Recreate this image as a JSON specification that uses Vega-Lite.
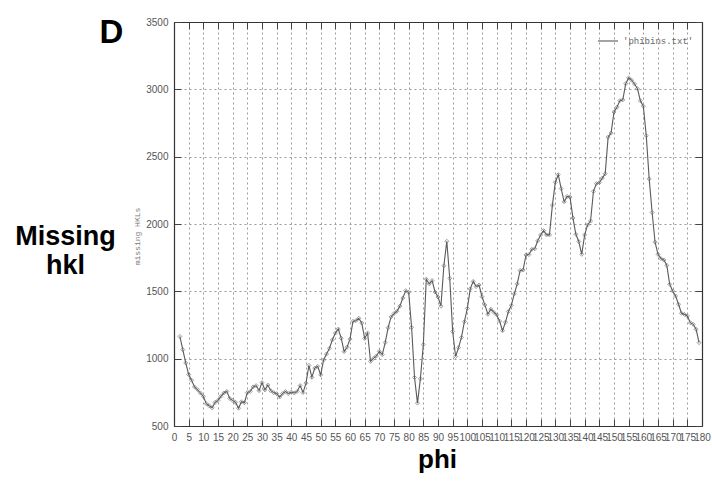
{
  "$schema": "https://vega.github.io/schema/vega-lite/v6.json",
  "autosize": {"type": "none"},
  "padding": {"left": 174, "top": 22, "right": 10, "bottom": 55},
  "width": 528,
  "height": 404,
  "background": "white",
  "config": {"view": {"stroke": null}},
  "data": {"values": [
    {"phi":2,"hkl":1165},{"phi":3,"hkl":1067},{"phi":4,"hkl":968},{"phi":5,"hkl":882},{"phi":6,"hkl":840},{"phi":7,"hkl":790},{"phi":8,"hkl":770},{"phi":9,"hkl":745},{"phi":10,"hkl":720},
    {"phi":11,"hkl":666},{"phi":12,"hkl":650},{"phi":13,"hkl":635},{"phi":14,"hkl":675},{"phi":15,"hkl":690},{"phi":16,"hkl":720},{"phi":17,"hkl":745},{"phi":18,"hkl":757},{"phi":19,"hkl":705},{"phi":20,"hkl":690},
    {"phi":21,"hkl":675},{"phi":22,"hkl":632},{"phi":23,"hkl":680},{"phi":24,"hkl":673},{"phi":25,"hkl":748},{"phi":26,"hkl":757},{"phi":27,"hkl":790},{"phi":28,"hkl":800},{"phi":29,"hkl":762},{"phi":30,"hkl":822},
    {"phi":31,"hkl":768},{"phi":32,"hkl":804},{"phi":33,"hkl":762},{"phi":34,"hkl":748},{"phi":35,"hkl":740},{"phi":36,"hkl":715},{"phi":37,"hkl":740},{"phi":38,"hkl":757},{"phi":39,"hkl":740},{"phi":40,"hkl":752},
    {"phi":41,"hkl":745},{"phi":42,"hkl":757},{"phi":43,"hkl":800},{"phi":44,"hkl":748},{"phi":45,"hkl":818},{"phi":46,"hkl":950},{"phi":47,"hkl":862},{"phi":48,"hkl":930},{"phi":49,"hkl":943},{"phi":50,"hkl":880},
    {"phi":51,"hkl":990},{"phi":52,"hkl":1035},{"phi":53,"hkl":1077},{"phi":54,"hkl":1140},{"phi":55,"hkl":1190},{"phi":56,"hkl":1220},{"phi":57,"hkl":1152},{"phi":58,"hkl":1052},{"phi":59,"hkl":1085},{"phi":60,"hkl":1145},
    {"phi":61,"hkl":1277},{"phi":62,"hkl":1282},{"phi":63,"hkl":1300},{"phi":64,"hkl":1265},{"phi":65,"hkl":1150},{"phi":66,"hkl":1190},{"phi":67,"hkl":980},{"phi":68,"hkl":1002},{"phi":69,"hkl":1020},{"phi":70,"hkl":1055},
    {"phi":71,"hkl":1030},{"phi":72,"hkl":1120},{"phi":73,"hkl":1230},{"phi":74,"hkl":1310},{"phi":75,"hkl":1335},{"phi":76,"hkl":1352},{"phi":77,"hkl":1390},{"phi":78,"hkl":1450},{"phi":79,"hkl":1505},{"phi":80,"hkl":1493},
    {"phi":81,"hkl":1233},{"phi":82,"hkl":860},{"phi":83,"hkl":670},{"phi":84,"hkl":850},{"phi":85,"hkl":1105},{"phi":86,"hkl":1590},{"phi":87,"hkl":1556},{"phi":88,"hkl":1580},{"phi":89,"hkl":1495},{"phi":90,"hkl":1458},
    {"phi":91,"hkl":1390},{"phi":92,"hkl":1690},{"phi":93,"hkl":1872},{"phi":94,"hkl":1597},{"phi":95,"hkl":1202},{"phi":96,"hkl":1016},{"phi":97,"hkl":1082},{"phi":98,"hkl":1158},{"phi":99,"hkl":1275},{"phi":100,"hkl":1373},
    {"phi":101,"hkl":1518},{"phi":102,"hkl":1574},{"phi":103,"hkl":1535},{"phi":104,"hkl":1547},{"phi":105,"hkl":1460},{"phi":106,"hkl":1398},{"phi":107,"hkl":1330},{"phi":108,"hkl":1368},{"phi":109,"hkl":1345},{"phi":110,"hkl":1325},
    {"phi":111,"hkl":1279},{"phi":112,"hkl":1208},{"phi":113,"hkl":1271},{"phi":114,"hkl":1350},{"phi":115,"hkl":1396},{"phi":116,"hkl":1481},{"phi":117,"hkl":1555},{"phi":118,"hkl":1655},{"phi":119,"hkl":1658},{"phi":120,"hkl":1770},
    {"phi":121,"hkl":1773},{"phi":122,"hkl":1812},{"phi":123,"hkl":1816},{"phi":124,"hkl":1875},{"phi":125,"hkl":1919},{"phi":126,"hkl":1951},{"phi":127,"hkl":1919},{"phi":128,"hkl":1919},{"phi":129,"hkl":2140},{"phi":130,"hkl":2310},
    {"phi":131,"hkl":2366},{"phi":132,"hkl":2263},{"phi":133,"hkl":2165},{"phi":134,"hkl":2205},{"phi":135,"hkl":2200},{"phi":136,"hkl":2045},{"phi":137,"hkl":1924},{"phi":138,"hkl":1870},{"phi":139,"hkl":1775},{"phi":140,"hkl":1919},
    {"phi":141,"hkl":1993},{"phi":142,"hkl":2022},{"phi":143,"hkl":2243},{"phi":144,"hkl":2300},{"phi":145,"hkl":2307},{"phi":146,"hkl":2341},{"phi":147,"hkl":2373},{"phi":148,"hkl":2645},{"phi":149,"hkl":2675},{"phi":150,"hkl":2832},
    {"phi":151,"hkl":2867},{"phi":152,"hkl":2916},{"phi":153,"hkl":2922},{"phi":154,"hkl":3042},{"phi":155,"hkl":3085},{"phi":156,"hkl":3068},{"phi":157,"hkl":3040},{"phi":158,"hkl":3005},{"phi":159,"hkl":2915},{"phi":160,"hkl":2875},
    {"phi":161,"hkl":2655},{"phi":162,"hkl":2335},{"phi":163,"hkl":2085},{"phi":164,"hkl":1865},{"phi":165,"hkl":1775},{"phi":166,"hkl":1743},{"phi":167,"hkl":1733},{"phi":168,"hkl":1693},{"phi":169,"hkl":1552},{"phi":170,"hkl":1503},
    {"phi":171,"hkl":1465},{"phi":172,"hkl":1404},{"phi":173,"hkl":1337},{"phi":174,"hkl":1329},{"phi":175,"hkl":1317},{"phi":176,"hkl":1267},{"phi":177,"hkl":1255},{"phi":178,"hkl":1218},{"phi":179,"hkl":1119}
  ]},
  "resolve": {"axis": {"x": "independent", "y": "independent"}},
  "layer": [
    {
      "mark": {"type": "line", "strokeWidth": 1.1},
      "encoding": {
        "x": {"field": "phi", "type": "quantitative",
          "scale": {"domain": [0, 180], "nice": false, "zero": false},
          "axis": {"orient": "bottom", "values": [0,5,10,15,20,25,30,35,40,45,50,55,60,65,70,75,80,85,90,95,100,105,110,115,120,125,130,135,140,145,150,155,160,165,170,175,180],
            "format": "d",
            "grid": true, "gridDash": [2, 3], "gridColor": "#9a9a9a", "gridWidth": 1,
            "domainColor": "#333", "domainWidth": 1.2,
            "tickSize": -7, "tickColor": "#444", "tickWidth": 1,
            "labelFont": "Liberation Sans", "labelFontSize": 10, "labelColor": "#555", "labelPadding": 13,
            "labelOverlap": false, "labelBound": false, "labelFlush": false,
            "title": "phi", "titleFont": "Liberation Sans", "titleFontSize": 26, "titleFontWeight": "bold", "titleColor": "#000",
            "titleX": 263, "titleY": 41, "titleAlign": "center", "titleBaseline": "alphabetic", "titleAngle": 0}},
        "y": {"field": "hkl", "type": "quantitative",
          "scale": {"domain": [500, 3500], "nice": false, "zero": false},
          "axis": {"orient": "left", "values": [500,1000,1500,2000,2500,3000,3500],
            "format": "d",
            "grid": true, "gridDash": [2, 3], "gridColor": "#9a9a9a", "gridWidth": 1,
            "domainColor": "#333", "domainWidth": 1.2,
            "tickSize": -7, "tickColor": "#444", "tickWidth": 1,
            "labelFont": "Liberation Sans", "labelFontSize": 10, "labelColor": "#555", "labelPadding": 13,
            "title": "missing HKLs", "titleFont": "Liberation Mono", "titleFontSize": 8, "titleFontWeight": "normal", "titleColor": "#777",
            "titleX": -37, "titleY": 214, "titleAngle": -90, "titleAlign": "center", "titleBaseline": "middle"}},
        "color": {"datum": "'phibins.txt'", "type": "nominal",
          "scale": {"range": ["#5a5a5a"]},
          "legend": {"title": null, "orient": "top-right", "offset": 8, "symbolType": "stroke", "symbolSize": 400, "symbolStrokeWidth": 1.1,
            "labelFont": "Liberation Mono", "labelFontSize": 9, "labelColor": "#666", "padding": 0}}
      }
    },
    {
      "mark": {"type": "point", "shape": "diamond", "filled": false, "size": 16, "stroke": "#666", "strokeWidth": 0.9},
      "encoding": {
        "x": {"field": "phi", "type": "quantitative",
          "axis": {"orient": "top", "values": [0,5,10,15,20,25,30,35,40,45,50,55,60,65,70,75,80,85,90,95,100,105,110,115,120,125,130,135,140,145,150,155,160,165,170,175,180],
            "grid": false, "labels": false, "domainColor": "#333", "domainWidth": 1.2,
            "tickSize": -7, "tickColor": "#444", "tickWidth": 1,
            "title": "D", "titleFont": "Liberation Sans", "titleFontSize": 33, "titleFontWeight": "bold", "titleColor": "#000",
            "titleX": -63, "titleY": 20, "titleAlign": "center", "titleBaseline": "alphabetic", "titleAngle": 0}},
        "y": {"field": "hkl", "type": "quantitative",
          "axis": {"orient": "right", "values": [500,1000,1500,2000,2500,3000,3500],
            "grid": false, "labels": false, "domainColor": "#333", "domainWidth": 1.2,
            "tickSize": -7, "tickColor": "#444", "tickWidth": 1,
            "title": ["Missing", "hkl"], "titleFont": "Liberation Sans", "titleFontSize": 27, "titleFontWeight": "bold", "titleColor": "#000",
            "titleLineHeight": 29, "titleX": -637, "titleY": 222, "titleAlign": "center", "titleBaseline": "alphabetic", "titleAngle": 0}}
      }
    }
  ]
}
